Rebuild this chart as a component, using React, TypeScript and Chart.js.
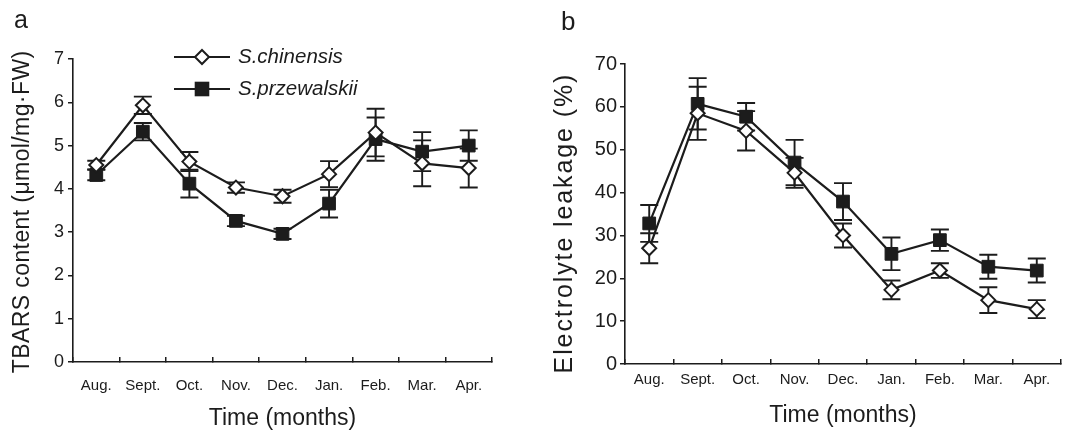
import React, { useEffect, useRef } from 'react';
import { Chart, registerables } from 'chart.js';

Chart.register(...registerables);

// ---------- data ----------
const months = ['Aug.', 'Sept.', 'Oct.', 'Nov.', 'Dec.', 'Jan.', 'Feb.', 'Mar.', 'Apr.'];

const tbarsChinensis = [4.55, 5.93, 4.63, 4.03, 3.83, 4.34, 5.3, 4.59, 4.48];
const tbarsChinensisErr = [0.1, 0.2, 0.22, 0.12, 0.15, 0.3, 0.55, 0.53, 0.45];
const tbarsPrzewalskii = [4.32, 5.32, 4.12, 3.26, 2.96, 3.66, 5.15, 4.86, 5.0];
const tbarsPrzewalskiiErr = [0.12, 0.2, 0.32, 0.12, 0.12, 0.32, 0.5, 0.45, 0.35];

const leakChinensis = [27, 58.5, 54.4, 44.6, 30, 17.3, 21.8, 14.9, 12.8];
const leakChinensisErr = [3.5, 6.2, 4.6, 3.5, 2.8, 2.2, 1.7, 3, 2.1];
const leakPrzewalskii = [32.8, 60.7, 57.7, 47, 37.9, 25.7, 28.9, 22.7, 21.8];
const leakPrzewalskiiErr = [4.3, 6, 3.2, 5.3, 4.3, 3.8, 2.5, 2.8, 2.8];

const seriesNames = ['S.chinensis', 'S.przewalskii'];

// ---------- style ----------
const FONT = '"Liberation Sans", Arial, Helvetica, sans-serif';
const INK = '#1c1c1c';

const errorBars = {
  id: 'errorBars',
  beforeDatasetsDraw(chart: any) {
    const ctx = chart.ctx;
    const y = chart.scales.y;
    chart.data.datasets.forEach((ds: any, i: number) => {
      const errs = ds.errors;
      if (!errs) return;
      const meta = chart.getDatasetMeta(i);
      ctx.save();
      ctx.strokeStyle = INK;
      ctx.lineWidth = 1.9;
      meta.data.forEach((pt: any, j: number) => {
        const v = ds.data[j];
        const e = errs[j];
        const top = y.getPixelForValue(v + e);
        const bot = y.getPixelForValue(v - e);
        const cap = 9;
        ctx.beginPath();
        ctx.moveTo(pt.x, top);
        ctx.lineTo(pt.x, bot);
        ctx.moveTo(pt.x - cap, top);
        ctx.lineTo(pt.x + cap, top);
        ctx.moveTo(pt.x - cap, bot);
        ctx.lineTo(pt.x + cap, bot);
        ctx.stroke();
      });
      ctx.restore();
    });
  },
};

function drawDiamond(ctx: CanvasRenderingContext2D, x: number, y: number, r: number) {
  ctx.beginPath();
  ctx.moveTo(x, y - r);
  ctx.lineTo(x + r, y);
  ctx.lineTo(x, y + r);
  ctx.lineTo(x - r, y);
  ctx.closePath();
  ctx.fillStyle = '#ffffff';
  ctx.fill();
  ctx.strokeStyle = INK;
  ctx.lineWidth = 2;
  ctx.stroke();
}

function drawSquare(ctx: CanvasRenderingContext2D, x: number, y: number, h: number) {
  ctx.fillStyle = INK;
  ctx.fillRect(x - h, y - h, 2 * h, 2 * h);
  ctx.strokeStyle = INK;
  ctx.lineWidth = 2;
  ctx.strokeRect(x - h, y - h, 2 * h, 2 * h);
}

type Deco = {
  letter: string;
  letterX: number;
  letterY: number;
  letterSize: number;
  yTitle: string;
  yTitleX: number;
  yTitleY: number;
  yTitleSize: number;
  yTitleSpacing: number;
  legend: boolean;
};

function decorations(d: Deco) {
  return {
    id: 'decorations',
    afterDraw(chart: any) {
      const ctx: CanvasRenderingContext2D = chart.ctx;
      ctx.save();
      ctx.fillStyle = INK;
      ctx.font = `${d.letterSize}px ${FONT}`;
      ctx.textAlign = 'left';
      ctx.textBaseline = 'alphabetic';
      ctx.fillText(d.letter, d.letterX, d.letterY);

      // y-axis title
      ctx.save();
      ctx.translate(d.yTitleX, d.yTitleY);
      ctx.rotate(-Math.PI / 2);
      ctx.font = `${d.yTitleSize}px ${FONT}`;
      (ctx as any).letterSpacing = `${d.yTitleSpacing}px`;
      ctx.textAlign = 'center';
      ctx.textBaseline = 'middle';
      ctx.fillText(d.yTitle, d.yTitleSpacing / 2, 0);
      ctx.restore();

      if (d.legend) {
        const rows = [57, 89];
        rows.forEach((ly, i) => {
          ctx.strokeStyle = INK;
          ctx.lineWidth = 2;
          ctx.beginPath();
          ctx.moveTo(174, ly);
          ctx.lineTo(230, ly);
          ctx.stroke();
          if (i === 0) drawDiamond(ctx, 202, ly, 7);
          else drawSquare(ctx, 202, ly, 6.3);
          ctx.fillStyle = INK;
          ctx.font = `italic 20.5px ${FONT}`;
          ctx.textAlign = 'left';
          ctx.textBaseline = 'middle';
          ctx.fillText(seriesNames[i], 238, ly);
        });
      }
      ctx.restore();
    },
  };
}

type PanelSpec = {
  width: number;
  height: number;
  area: { left: number; right: number; top: number; bottom: number };
  chinensis: number[];
  chinensisErr: number[];
  przewalskii: number[];
  przewalskiiErr: number[];
  yMax: number;
  yStep: number;
  yTickSize: number;
  yTickPad: number;
  xTickPad: number;
  xTitlePadBottom: number;
  deco: Deco;
};

function makeConfig(p: PanelSpec): any {
  return {
    type: 'line',
    data: {
      labels: months,
      datasets: [
        {
          label: seriesNames[0],
          data: p.chinensis,
          errors: p.chinensisErr,
          borderColor: INK,
          borderWidth: 2.2,
          tension: 0,
          pointStyle: 'rectRot',
          pointRadius: 7,
          pointBorderWidth: 2,
          pointBackgroundColor: '#ffffff',
          pointBorderColor: INK,
        },
        {
          label: seriesNames[1],
          data: p.przewalskii,
          errors: p.przewalskiiErr,
          borderColor: INK,
          borderWidth: 2.2,
          tension: 0,
          pointStyle: 'rect',
          pointRadius: 9,
          pointBorderWidth: 1,
          pointBackgroundColor: INK,
          pointBorderColor: INK,
        },
      ],
    },
    options: {
      responsive: false,
      animation: false,
      events: [],
      layout: {
        padding: {
          left: 0,
          top: p.area.top,
          right: p.width - p.area.right,
          bottom: 0,
        },
      },
      plugins: {
        legend: { display: false },
        tooltip: { enabled: false },
        title: { display: false },
      },
      scales: {
        x: {
          type: 'category',
          offset: true,
          grid: {
            display: true,
            drawOnChartArea: false,
            offset: true,
            tickLength: -5,
            color: INK,
            lineWidth: 1.5,
          },
          border: { display: true, color: INK, width: 1.6 },
          ticks: {
            color: INK,
            font: { family: FONT, size: 15 },
            padding: p.xTickPad,
            maxRotation: 0,
            autoSkip: false,
          },
          title: {
            display: true,
            text: 'Time (months)',
            color: INK,
            font: { family: FONT, size: 23, lineHeight: 1 },
            padding: { top: 0, bottom: p.xTitlePadBottom },
          },
          afterFit(scale: any) {
            scale.height = p.height - p.area.bottom;
          },
        },
        y: {
          min: 0,
          max: p.yMax,
          grid: {
            display: true,
            drawOnChartArea: false,
            tickLength: 5,
            color: INK,
            lineWidth: 1.5,
          },
          border: { display: true, color: INK, width: 1.6 },
          ticks: {
            stepSize: p.yStep,
            color: INK,
            font: { family: FONT, size: p.yTickSize },
            padding: p.yTickPad,
          },
          title: { display: false },
          afterFit(scale: any) {
            scale.width = p.area.left;
          },
        },
      },
    },
    plugins: [errorBars, decorations(p.deco)],
  };
}

const panelA: PanelSpec = {
  width: 540,
  height: 430,
  area: { left: 73, right: 492, top: 59, bottom: 362 },
  chinensis: tbarsChinensis,
  chinensisErr: tbarsChinensisErr,
  przewalskii: tbarsPrzewalskii,
  przewalskiiErr: tbarsPrzewalskiiErr,
  yMax: 7,
  yStep: 1,
  yTickSize: 18,
  yTickPad: 4,
  xTickPad: 20,
  xTitlePadBottom: 0,
  deco: {
    letter: 'a',
    letterX: 14,
    letterY: 28,
    letterSize: 25,
    yTitle: 'TBARS content (\u03bcmol/mg\u00b7FW)',
    yTitleX: 23,
    yTitleY: 212,
    yTitleSize: 23,
    yTitleSpacing: 0.4,
    legend: true,
  },
};

const panelB: PanelSpec = {
  width: 531,
  height: 430,
  area: { left: 85, right: 530, top: 64, bottom: 364 },
  chinensis: leakChinensis,
  chinensisErr: leakChinensisErr,
  przewalskii: leakPrzewalskii,
  przewalskiiErr: leakPrzewalskiiErr,
  yMax: 70,
  yStep: 10,
  yTickSize: 20,
  yTickPad: 3,
  xTickPad: 12,
  xTitlePadBottom: 3,
  deco: {
    letter: 'b',
    letterX: 21,
    letterY: 30,
    letterSize: 26,
    yTitle: 'Electrolyte leakage (%)',
    yTitleX: 25,
    yTitleY: 224,
    yTitleSize: 25,
    yTitleSpacing: 1.9,
    legend: false,
  },
};

function Panel({ spec, left }: { spec: PanelSpec; left: number }) {
  const ref = useRef<HTMLCanvasElement>(null);
  useEffect(() => {
    const chart = new Chart(ref.current as HTMLCanvasElement, makeConfig(spec));
    return () => chart.destroy();
  }, [spec]);
  return (
    <canvas
      ref={ref}
      width={spec.width}
      height={spec.height}
      style={{ position: 'absolute', left, top: 0, width: spec.width, height: spec.height, display: 'block' }}
    />
  );
}

export default function App() {
  return (
    <div
      style={{
        position: 'absolute',
        left: 0,
        top: 0,
        width: 1071,
        height: 430,
        background: '#ffffff',
        overflow: 'hidden',
      }}
    >
      <Panel spec={panelA} left={0} />
      <Panel spec={panelB} left={540} />
    </div>
  );
}
